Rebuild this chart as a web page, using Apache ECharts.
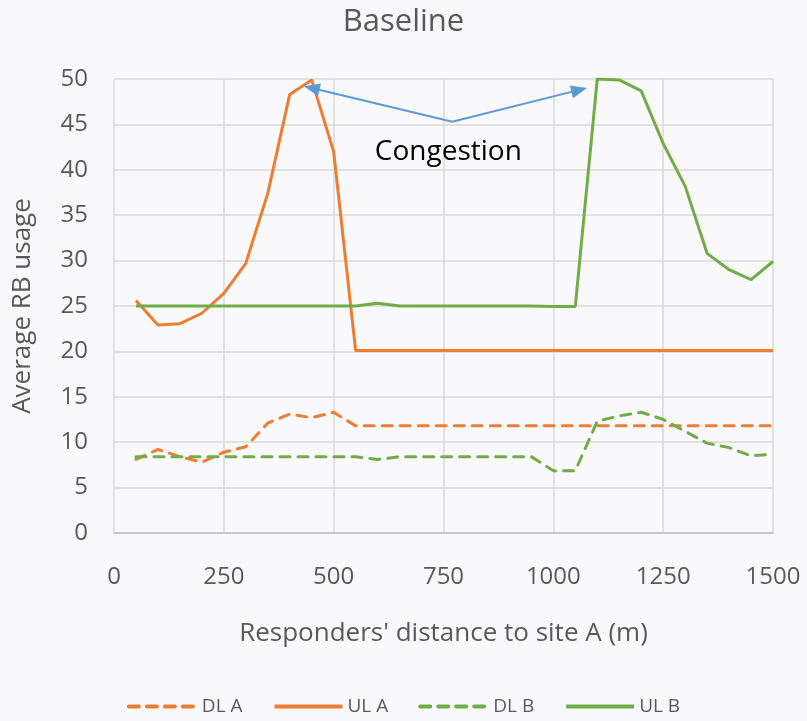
<!DOCTYPE html>
<html><head><meta charset="utf-8">
<script src="https://cdn.jsdelivr.net/npm/echarts@6/dist/echarts.min.js"></script>
<style>html,body{margin:0;padding:0;background:#f9f9fb;}#c{width:807px;height:721px;}</style>
</head><body><div id="c"></div>
<script>
const distances = [50,100,150,200,250,300,350,400,450,500,550,600,650,700,750,800,850,900,950,1000,1050,1100,1150,1200,1250,1300,1350,1400,1450,1500];
const dlA = [8.1,9.2,8.4,7.8,8.9,9.5,12.1,13.1,12.7,13.3,11.8,11.8,11.8,11.8,11.8,11.8,11.8,11.8,11.8,11.8,11.8,11.8,11.8,11.8,11.8,11.8,11.8,11.8,11.8,11.8];
const ulA = [25.6,22.9,23.05,24.2,26.4,29.7,37.4,48.3,49.9,42.0,20.1,20.1,20.1,20.1,20.1,20.1,20.1,20.1,20.1,20.1,20.1,20.1,20.1,20.1,20.1,20.1,20.1,20.1,20.1,20.1];
const dlB = [8.4,8.4,8.4,8.4,8.4,8.4,8.4,8.4,8.4,8.4,8.4,8.1,8.4,8.4,8.4,8.4,8.4,8.4,8.4,6.86,6.86,12.3,12.9,13.3,12.5,11.2,9.9,9.4,8.5,8.7];
const ulB = [25.0,25.0,25.0,25.0,25.0,25.0,25.0,25.0,25.0,25.0,25.0,25.3,25.0,25.0,25.0,25.0,25.0,25.0,25.0,24.95,24.95,50.0,49.9,48.7,42.9,38.2,30.8,29.0,27.9,29.9];
const arrowFrom = [770, 45.3];
const arrowToA = [450, 49.0];
const arrowToB = [1059, 48.8];
const annotationText = 'Congestion';
const annotationPos = [761, 42.0];

const ORANGE = '#ED7D31', GREEN = '#70AD47', ARROW = '#5B9BD5';
const font = 'Open Sans, Noto Sans, sans-serif';
const pairs = a => distances.map((d,i)=>[d,a[i]]);
const chart = echarts.init(document.getElementById('c'));
chart.setOption({
  backgroundColor: '#f9f9fb',
  animation: false,
  title: {text:'Baseline', left:'center', top:2, textStyle:{fontFamily:font, fontSize:31, fontWeight:'normal', color:'#595959'}},
  grid: {left:114, top:79, right:34, bottom:188},
  legend: {bottom:0, left:'center', itemWidth:68, itemHeight:4, itemGap:30,
    lineStyle:{width:4}, itemStyle:{opacity:0},
    textStyle:{fontFamily:font, fontSize:19, color:'#595959'},
    data:['DL A','UL A','DL B','UL B']},
  xAxis: {type:'value', min:0, max:1500, interval:250,
    name:"Responders' distance to site A (m)", nameLocation:'middle', nameGap:88,
    nameTextStyle:{fontFamily:font, fontSize:26, color:'#595959'},
    axisLine:{show:true, lineStyle:{color:'#bfbfbf', width:1.5}},
    axisTick:{show:false},
    axisLabel:{fontFamily:font, fontSize:24, color:'#595959', margin:32, formatter:v=>String(v)},
    splitLine:{show:true, lineStyle:{color:'#d9d9d9', width:1.5}}},
  yAxis: {type:'value', min:0, max:50, interval:5,
    name:'Average RB usage', nameLocation:'middle', nameGap:78,
    nameTextStyle:{fontFamily:font, fontSize:26, color:'#595959'},
    axisLine:{show:false}, axisTick:{show:false},
    axisLabel:{fontFamily:font, fontSize:24, color:'#595959', margin:26},
    splitLine:{show:true, lineStyle:{color:'#d9d9d9', width:1.5}}},
  series: [
    {name:'DL A', type:'line', data:pairs(dlA), symbol:'none', color:ORANGE,
      lineStyle:{color:ORANGE, width:3, type:[10,8], cap:'round'}},
    {name:'UL A', type:'line', data:pairs(ulA), symbol:'none', color:ORANGE,
      lineStyle:{color:ORANGE, width:3}},
    {name:'DL B', type:'line', data:pairs(dlB), symbol:'none', color:GREEN,
      lineStyle:{color:GREEN, width:3, type:[10,8], cap:'round'}},
    {name:'UL B', type:'line', data:pairs(ulB), symbol:'none', color:GREEN,
      lineStyle:{color:GREEN, width:3},
      markLine:{silent:true, symbol:['none','triangle'], symbolSize:[13,16],
        lineStyle:{color:ARROW, width:2, type:'solid'}, label:{show:false},
        data:[[{coord:arrowFrom},{coord:arrowToA}],[{coord:arrowFrom},{coord:arrowToB}]]},
      markPoint:{silent:true, symbol:'circle', symbolSize:0,
        label:{show:true, formatter:annotationText, fontFamily:font, fontSize:28, color:'#000'},
        data:[{coord:annotationPos}]}}
  ]
});
</script></body></html>
